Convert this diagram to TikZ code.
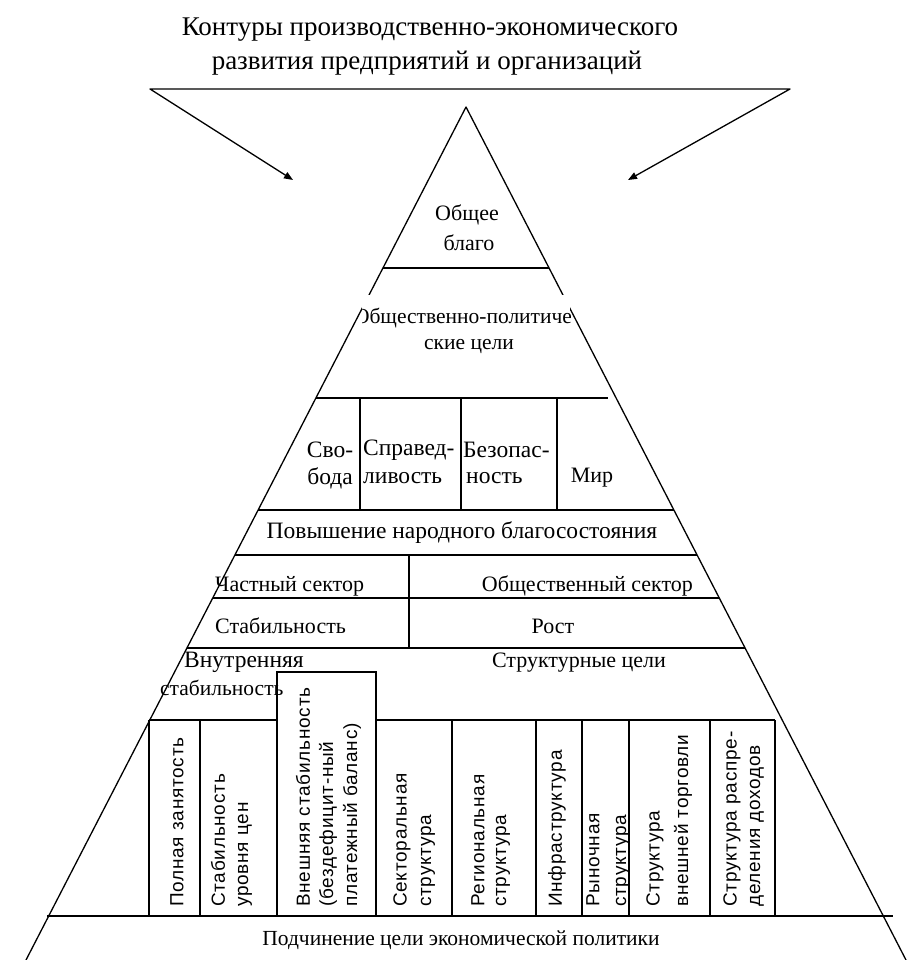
\documentclass[tikz,border=0pt]{standalone}
\usepackage{fontspec}
\setmainfont{Liberation Serif}
\setsansfont{Liberation Sans}
\usetikzlibrary{arrows.meta}
\begin{document}
\begin{tikzpicture}[x=1pt,y=-1pt,
  edge/.style={line width=1.3pt, line join=round},
  rule/.style={line width=1.2pt},
  txt/.style={inner sep=0pt, font=\fontsize{22}{26}\selectfont},
  big/.style={inner sep=0pt, font=\fontsize{23.5}{28}\selectfont},
  small/.style={inner sep=0pt, font=\fontsize{21.5}{26}\selectfont},
  ttl/.style={inner sep=0pt, font=\fontsize{27}{32}\selectfont},
  vtxt/.style={inner sep=0pt, rotate=90, anchor=west,
    font=\sffamily\fontsize{19}{22}\selectfont\addfontfeature{LetterSpace=4}},
  tipped/.style={{Triangle[length=9pt,width=7pt]}-{Triangle[length=9pt,width=7pt]}}
]
\useasboundingbox (0,0) rectangle (914,960);

% heading
\node[ttl] (title1) at (430,30) {Контуры производственно-экономического};
\node[ttl] (title2) at (427,63) {развития предприятий и организаций};

% pyramid outline
\coordinate (apex) at (466,107);
\coordinate (footL) at (26,960);
\coordinate (footR) at (906,960);
\draw[edge] (footL) -- (apex) -- (footR);

% bracket with arrows over the apex
\coordinate (cl) at (150,89);
\coordinate (cr) at (790,89);
\coordinate (tipL) at (293,180);
\coordinate (tipR) at (628,180);
\draw[edge, tipped] (tipL) -- (cl) -- (cr) -- (tipR);

% top tier
\node[txt] (good1) at (467,215) {Общее};
\node[txt] (good2) at (469,243) {благо};
\draw[rule] (383,268) -- (549,268);

% socio-political goals (label box clipped)
\begin{scope}
  \clip (362,295) rectangle (570,374);
  \fill[white] (362,295) rectangle (570,374);
  \node[small] (polit1) at (463,318) {Общественно-политиче};
\end{scope}
\node[small] (polit2) at (469,347) {ские цели};
\draw[rule] (316,398) -- (608,398);

% four values
\foreach \x in {360,461,557} \draw[rule] (\x,398) -- (\x,510);
\node[big] (v1a) at (330,450) {Сво-};
\node[big] (v1b) at (330,478) {бода};
\node[big, anchor=west] (v2a) at (363,450) {Справед-};
\node[big, anchor=west] (v2b) at (363,478) {ливость};
\node[big, anchor=west] (v3a) at (463,450) {Безопас-};
\node[big, anchor=west] (v3b) at (466,478) {ность};
\node[txt] (v4) at (592,478) {Мир};
\draw[rule] (258,510) -- (674,510);

% welfare
\node[big] (welfare) at (462,533) {Повышение народного благосостояния};
\draw[rule] (235,555) -- (697,555);

% sectors
\node[txt, anchor=west] (priv) at (215,586) {Частный сектор};
\node[txt, anchor=east] (publ) at (693,586) {Общественный сектор};
\draw[rule] (213,598) -- (719,598);
\node[txt, anchor=west] (stab) at (215,626) {Стабильность};
\node[txt] (growth) at (553,626) {Рост};
\draw[rule] (409,555) -- (409,648);
\draw[rule] (187,648) -- (745,648);

% internal stability / structural goals
\node[big, anchor=west] (inner1) at (184,662) {Внутренняя};
\node[small, anchor=west] (inner2) at (160,688) {стабильность};
\node[txt] (struct) at (579,663) {Структурные цели};

% row of goal columns
\draw[rule] (149,720) -- (277,720);
\draw[rule] (376,720) -- (775,720);
\draw[rule] (277,916) -- (277,672) -- (376,672) -- (376,916);
\foreach \x in {149,200,452,536,582,629,710,775} \draw[rule] (\x,720) -- (\x,916);

\node[vtxt] (c1) at (177,907) {Полная занятость};
\node[vtxt] (c2a) at (218,907) {Стабильность};
\node[vtxt] (c2b) at (245,907) {уровня цен};
\node[vtxt] (c3a) at (303,907) {Внешняя стабильность};
\node[vtxt] (c3b) at (328,907) {(бездефицит-ный};
\node[vtxt] (c3c) at (352,907) {платежный баланс)};
\node[vtxt] (c4a) at (402,907) {Секторальная};
\node[vtxt] (c4b) at (428,907) {структура};
\node[vtxt] (c5a) at (478,907) {Региональная};
\node[vtxt] (c5b) at (503,907) {структура};
\node[vtxt] (c6) at (557,907) {Инфраструктура};
\node[vtxt] (c7a) at (593,907) {Рыночная};
\node[vtxt] (c7b) at (623,907) {структура};
\node[vtxt] (c8a) at (655,907) {Структура};
\node[vtxt] (c8b) at (683,907) {внешней торговли};
\node[vtxt] (c9a) at (732,907) {Структура распре-};
\node[vtxt] (c9b) at (757,907) {деления доходов};

% base
\draw[line width=2pt] (47,916) -- (893,916);
\node[small] (base) at (461,940) {Подчинение цели экономической политики};
\end{tikzpicture}
\end{document}
